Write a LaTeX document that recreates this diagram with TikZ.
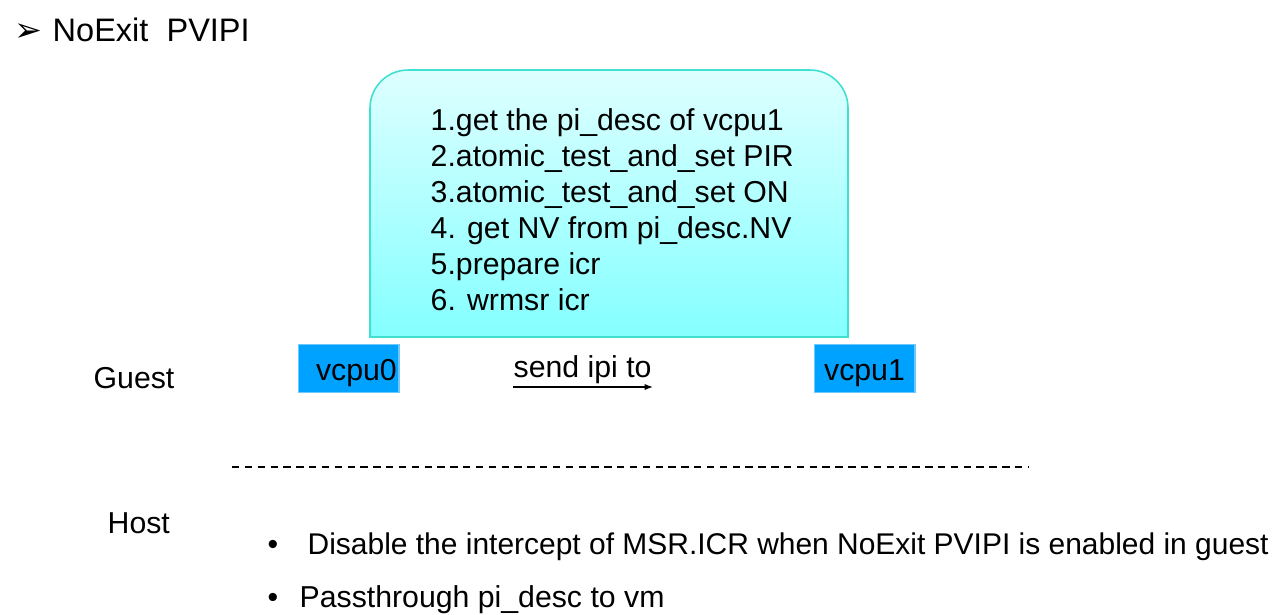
\documentclass[tikz,border=0pt]{standalone}
\usepackage{fontspec}
\setmainfont{Liberation Sans}
\newfontfamily\symfont{DejaVu Sans}
\usetikzlibrary{positioning,arrows.meta}

\definecolor{cpublue}{RGB}{0,162,255}
\definecolor{cpuline}{RGB}{110,200,255}
\definecolor{boxline}{RGB}{64,224,208}
\definecolor{boxtop}{RGB}{222,255,255}
\definecolor{boxbottom}{RGB}{132,255,255}

\begin{document}
\begin{tikzpicture}[
    x=0.01cm, y=-0.01cm,
    txt/.style={inner sep=0pt, font=\fontsize{8.6}{10.2}\selectfont},
    cpu/.style={txt, fill=cpublue, draw=cpuline, line width=0.3pt,
                minimum width=28.7pt, minimum height=13.4pt,
                text height=0.9em, text depth=0.2em},
    arrow/.style={-{Latex[length=2.4pt,width=1.8pt]}, line width=0.4pt},
    sep/.style={line width=0.6pt, dash pattern=on 2.1pt off 1.55pt}
]
\useasboundingbox (0,0) rectangle (1283,614);

% Title
\node[txt, anchor=base west] (mark) at (14,41) {\symfont\fontsize{9.5}{10}\selectfont ➢};
\node[txt, anchor=base west, font=\fontsize{9.25}{11}\selectfont] (title) at (52,41) {NoExit\ \ PVIPI};

% Steps box (rounded on top only)
\shade[top color=boxtop, bottom color=boxbottom, draw=boxline, line width=0.45pt]
    (370,337) [rounded corners=10.8pt] -- (370,70) -- (848,70) [sharp corners] -- (848,337) -- cycle;
\node[txt, anchor=base west, align=left] (steps) at (430,310)
    {1.get the pi\_desc of vcpu1\\
     2.atomic\_test\_and\_set PIR\\
     3.atomic\_test\_and\_set ON\\
     4. get NV from pi\_desc.NV\\
     5.prepare icr\\
     6. wrmsr icr};

% Guest side
\node[txt, anchor=base west] (guest) at (93,388) {Guest};
\node[cpu] (vcpu0) at (348.5,368.5) {\hspace{4.5pt}vcpu0};
\node[cpu] (vcpu1) at (864.5,368.5) {vcpu1};
\node[txt, anchor=base west] (send) at (513,377) {send ipi to};
\coordinate (sendA) at (513,387);
\coordinate (sendB) at (653,387);
\draw[arrow] (sendA) -- (sendB);

% Guest / host border
\coordinate (sepL) at (232,467);
\coordinate (sepR) at (1028,467);
\draw[sep] (sepL) -- (sepR);

% Host side
\node[txt, anchor=base west] (host) at (107,533) {Host};
\node[txt, anchor=base west] (dot1) at (267,554) {•};
\node[txt, anchor=base west, font=\fontsize{8.52}{10.2}\selectfont] (item1) at (307,554)
    {Disable the intercept of MSR.ICR when NoExit PVIPI is enabled in guest};
\node[txt, anchor=base west] (dot2) at (267,607) {•};
\node[txt, anchor=base west] (item2) at (299,607) {Passthrough pi\_desc to vm};

\end{tikzpicture}
\end{document}
